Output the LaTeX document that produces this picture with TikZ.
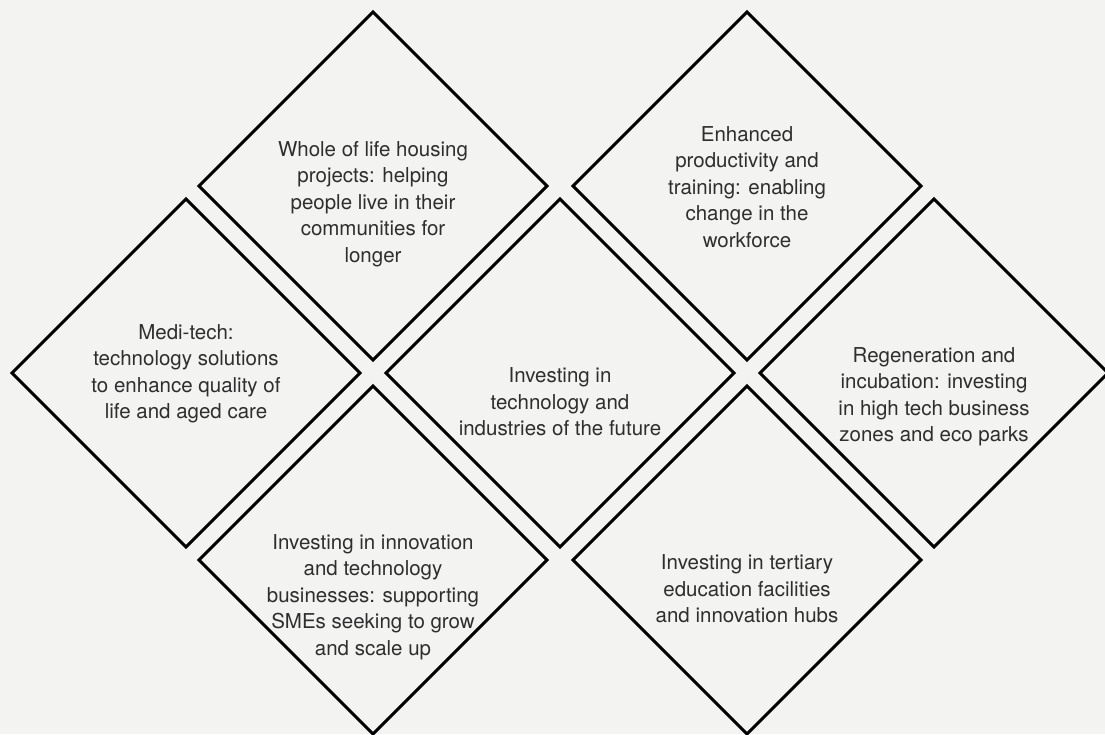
\documentclass[tikz,border=0pt]{standalone}
\usepackage{fontspec}
\setmainfont{TeX Gyre Heros}
\usetikzlibrary{shapes.geometric}
\definecolor{paper}{HTML}{F3F3F1}
\definecolor{inkgray}{HTML}{2E2E2E}

\begin{document}
\begin{tikzpicture}[
  x=1pt, y=-1pt,
  tile/.style={
    diamond,
    draw=black,
    line width=3pt,
    minimum width=348pt,
    minimum height=348pt,
    inner sep=0pt,
    outer sep=0pt},
  blurb/.style={
    align=center,
    inner sep=0pt,
    text=inkgray,
    font=\fontsize{20.5}{26.5}\selectfont}]
  % paper and frame
  \fill[paper] (0,0) rectangle (1105,734);
  \useasboundingbox (0,0) rectangle (1105,734);
  \clip (0,0) rectangle (1105,734);
  % draw the diamond tiles
  \foreach \name/\cx/\cy in {housing/373/186,training/747/186,meditech/186/373,
      future/560/373,regen/934/373,smes/373/560,tertiary/747/560}
    \node[tile] (\name) at (\cx,\cy) {};
  % texts inside the tiles
  \node[blurb] (housing-txt) at ([yshift=-18pt]housing.center)
    {Whole of life housing\\projects: helping\\people live in their\\communities for\\longer};
  \node[blurb] (training-txt) at ([yshift=-1pt]training.center)
    {Enhanced\\productivity and\\training: enabling\\change in the\\workforce};
  \node[blurb] (meditech-txt) at ([yshift=-1pt]meditech.center)
    {Medi-tech:\\technology solutions\\to enhance quality of\\life and aged care};
  \node[blurb] (future-txt) at ([yshift=-29pt]future.center)
    {Investing in\\technology and\\industries of the future};
  \node[blurb] (regen-txt) at ([yshift=-24pt]regen.center)
    {Regeneration and\\incubation: investing\\in high tech business\\zones and eco parks};
  \node[blurb] (smes-txt) at ([yshift=-37pt]smes.center)
    {Investing in innovation\\and technology\\businesses: supporting\\SMEs seeking to grow\\and scale up};
  \node[blurb] (tertiary-txt) at ([yshift=-29pt]tertiary.center)
    {Investing in tertiary\\education facilities\\and innovation hubs};
\end{tikzpicture}
\end{document}
